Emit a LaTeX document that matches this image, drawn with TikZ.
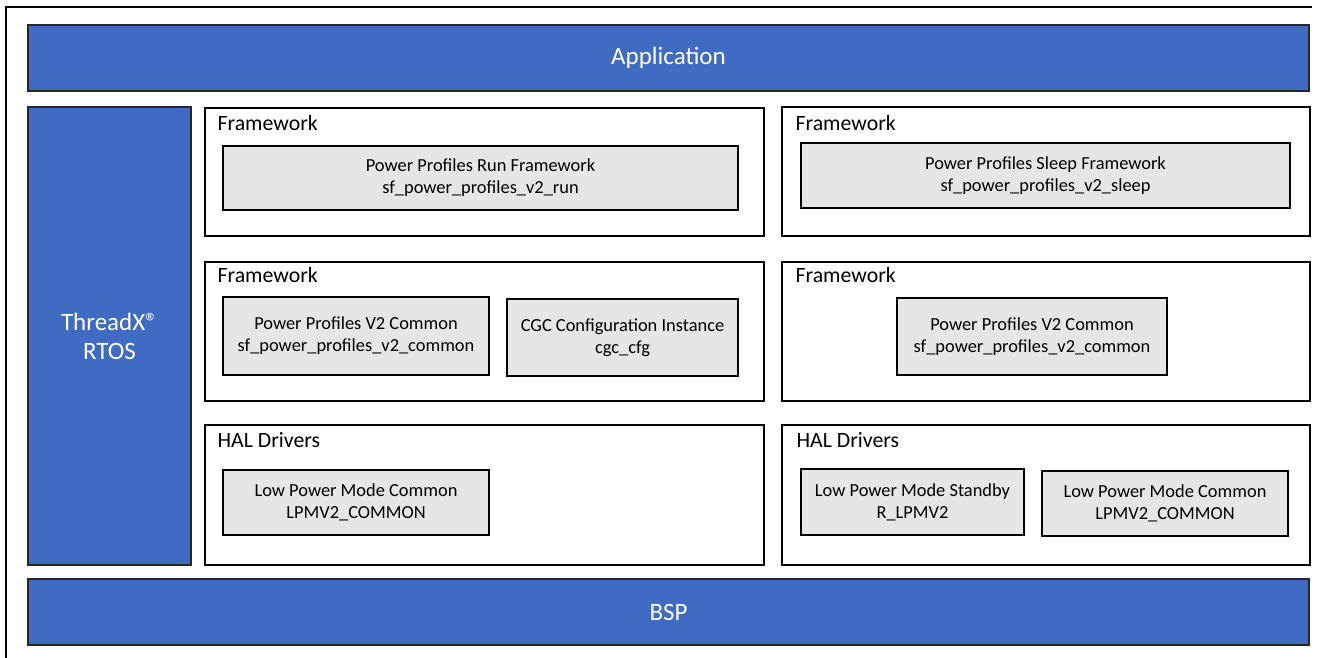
\documentclass[tikz,border=0pt]{standalone}
\usepackage{fontspec}
\setmainfont{Carlito}
\usepackage{tikz}
\usetikzlibrary{positioning}

\definecolor{layerblue}{RGB}{63,108,194}
\definecolor{modgray}{RGB}{231,230,230}

\tikzset{
    layer/.style={rectangle, draw=black!85, line width=1.2pt, fill=layerblue,
        text=white, font=\fontsize{25}{29}\selectfont, align=center, inner sep=0pt},
    group/.style={rectangle, draw=black, line width=1.2pt, fill=white, inner sep=0pt},
    module/.style={rectangle, draw=black, line width=1.2pt, fill=modgray,
        font=\fontsize{18.4}{22}\selectfont, align=center, inner sep=0pt},
    title/.style={anchor=west, inner sep=0pt, font=\fontsize{21.8}{24}\selectfont}
}

\begin{document}
\begin{tikzpicture}[x=1pt,y=-1pt]
    \useasboundingbox (0,0) rectangle (1317,658);
    \draw[line width=2pt] (6,658) -- (6,7) -- (1312,7);

    % layers
    \node[layer, minimum width=1281pt, minimum height=66pt] (app) at (668.5,58) {Application};
    \node[layer, minimum width=163pt, minimum height=458pt] (rtos) at (109.5,336) {ThreadX®\\RTOS};
    \node[layer, minimum width=1281pt, minimum height=66pt] (bsp) at (668.5,612) {BSP};

    % groups
    \node[group, minimum width=559pt, minimum height=128pt] (fw1) at (484.5,172) {};
    \node[group, minimum width=528pt, minimum height=129pt] (fw2) at (1046,171.5) {};
    \node[group, minimum width=559pt, minimum height=139pt] (fw3) at (484.5,331.5) {};
    \node[group, minimum width=528pt, minimum height=139pt] (fw4) at (1046,331.5) {};
    \node[group, minimum width=559pt, minimum height=140pt] (hal1) at (484.5,495) {};
    \node[group, minimum width=528pt, minimum height=140pt] (hal2) at (1046,495) {};

    \node[title] (fw1t) at ([shift={(13,16)}]fw1.north west) {Framework};
    \node[title] (fw2t) at ([shift={(14,17)}]fw2.north west) {Framework};
    \node[title] (fw3t) at ([shift={(13,14)}]fw3.north west) {Framework};
    \node[title] (fw4t) at ([shift={(14,14)}]fw4.north west) {Framework};
    \node[title] (hal1t) at ([shift={(13,16)}]hal1.north west) {HAL Drivers};
    \node[title] (hal2t) at ([shift={(15,16)}]hal2.north west) {HAL Drivers};

    % modules
    \node[module, minimum width=515pt, minimum height=64pt] (run) at (480.5,178)
        {Power Profiles Run Framework\\sf\_power\_profiles\_v2\_run};
    \node[module, minimum width=489pt, minimum height=65pt] (sleep) at (1045.5,175.5)
        {Power Profiles Sleep Framework\\sf\_power\_profiles\_v2\_sleep};
    \node[module, minimum width=266pt, minimum height=78pt] (common1) at (356,336)
        {Power Profiles V2 Common\\sf\_power\_profiles\_v2\_common};
    \node[module, minimum width=231pt, minimum height=77pt] (cgc) at (622.5,337.5)
        {CGC Configuration Instance\\cgc\_cfg};
    \node[module, minimum width=270pt, minimum height=77pt] (common2) at (1032,336.5)
        {Power Profiles V2 Common\\sf\_power\_profiles\_v2\_common};
    \node[module, minimum width=266pt, minimum height=65pt] (lpm1) at (356,502.5)
        {Low Power Mode Common\\LPMV2\_COMMON};
    \node[module, minimum width=223pt, minimum height=66pt] (standby) at (912.5,502)
        {Low Power Mode Standby\\R\_LPMV2};
    \node[module, minimum width=246pt, minimum height=65pt] (lpm2) at (1165,503.5)
        {Low Power Mode Common\\LPMV2\_COMMON};
\end{tikzpicture}
\end{document}
